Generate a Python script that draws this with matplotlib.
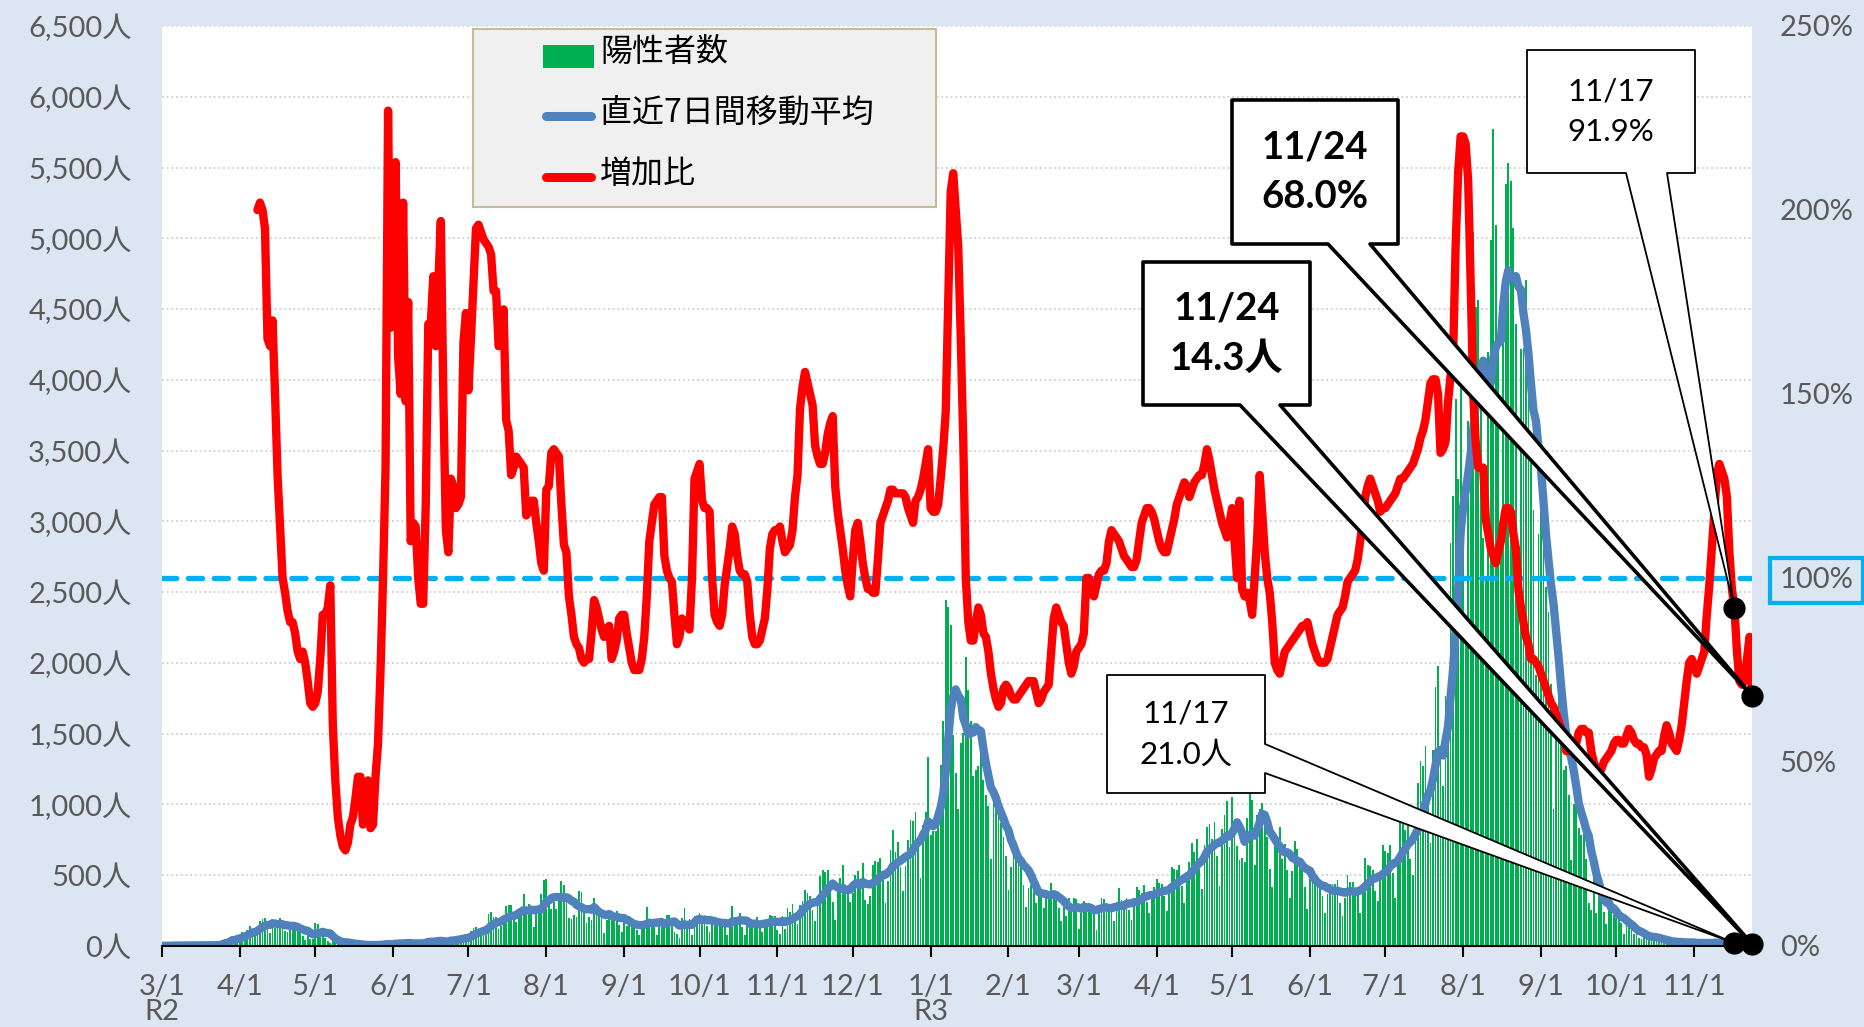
import pandas as pd
import matplotlib
matplotlib.use("Agg")
import matplotlib.pyplot as plt
import matplotlib.dates as mdates
from matplotlib.patches import Polygon, Rectangle
from matplotlib.lines import Line2D

plt.rcParams['font.family'] = ['Lato', 'Noto Sans CJK JP', 'DejaVu Sans']

# daily positives from 2020/3/1 (one row per month)
cases_2020 = [
    2, 0, 1, 3, 8, 5, 6, 0, 1, 2, 4, 5, 5, 7, 3, 1, 11, 6, 2, 9, 7, 4, 1, 16, 41, 47, 40, 63, 68, 13, 78,
    66, 97, 89, 116, 143, 83, 79, 144, 178, 189, 197, 166, 91, 161, 127, 149, 201, 181, 107, 102, 123, 132, 134, 161, 103, 72, 39, 112, 47, 46,
    165, 154, 91, 87, 58, 38, 23, 39, 36, 22, 15, 28, 10, 30, 9, 14, 5, 10, 5, 5, 11, 3, 2, 14, 8, 10, 11, 15, 22, 14, 5,
    13, 34, 12, 28, 20, 26, 14, 13, 12, 18, 22, 25, 24, 47, 48, 27, 16, 41, 35, 39, 35, 29, 31, 55, 48, 54, 57, 60, 58, 54,
    67, 107, 124, 131, 111, 102, 106, 75, 224, 243, 206, 206, 119, 143, 165, 286, 293, 290, 188, 168, 237, 238, 366, 260, 295, 239, 131, 266, 250, 367, 463,
    472, 292, 258, 309, 263, 360, 462, 429, 331, 197, 188, 222, 206, 389, 385, 260, 161, 207, 186, 339, 258, 256, 212, 95, 182, 236, 250, 226, 247, 148, 100,
    170, 141, 211, 136, 181, 116, 77, 170, 149, 276, 187, 146, 146, 80, 191, 163, 172, 220, 218, 150, 98, 88, 59, 195, 270, 161, 193, 78, 212, 194,
    235, 196, 207, 143, 102, 178, 177, 172, 187, 180, 146, 78, 166, 284, 185, 184, 235, 133, 78, 139, 150, 186, 186, 203, 124, 102, 158, 171, 221, 215, 215,
    116, 87, 209, 122, 269, 242, 294, 189, 157, 293, 317, 393, 374, 352, 255, 180, 298, 493, 534, 522, 539, 391, 314, 186, 401, 481, 570, 418, 418, 311,
    372, 500, 533, 449, 584, 327, 299, 352, 572, 602, 595, 621, 480, 305, 460, 678, 822, 664, 736, 556, 392, 563, 748, 888, 884, 949, 708, 481, 856, 944, 1337,
]
cases_2021 = [
    783, 814, 816, 884, 1278, 1591, 2447, 2392, 2268, 1494, 1219, 970, 1433, 1502, 2044, 1809, 1592, 1204, 1240, 1274, 1471, 1175, 1070, 986, 618, 1026, 973, 1064, 868, 769, 633,
    393, 556, 676, 734, 577, 639, 429, 276, 412, 434, 434, 307, 369, 371, 266, 378, 378, 445, 353, 327, 272, 178, 275, 213, 340, 270, 337, 329,
    121, 232, 316, 279, 301, 293, 237, 116, 290, 340, 335, 304, 239, 239, 175, 300, 409, 323, 303, 342, 256, 187, 337, 420, 394, 376, 430, 313, 234, 364, 414,
    475, 446, 440, 355, 249, 399, 555, 545, 537, 570, 421, 306, 510, 591, 729, 667, 759, 543, 405, 711, 843, 861, 759, 876, 635, 425, 828, 925, 1027, 698,
    1050, 879, 708, 609, 621, 591, 907, 1121, 1032, 573, 925, 969, 1010, 854, 772, 542, 419, 732, 766, 843, 614, 723, 535, 340, 531, 743, 684, 614, 539, 416, 260,
    471, 487, 508, 472, 436, 351, 235, 369, 440, 439, 435, 467, 304, 209, 337, 501, 452, 453, 388, 376, 236, 435, 619, 570, 562, 534, 386, 317, 476, 714,
    673, 660, 716, 518, 342, 593, 920, 896, 822, 950, 614, 502, 830, 1149, 1308, 1271, 1410, 1008, 727, 1387, 1832, 1979, 1359, 1128, 1763, 1429, 2848, 3177, 3865, 3300, 4058,
    3058, 2195, 3709, 4166, 5042, 4515, 4566, 4066, 2884, 2612, 4200, 4989, 5773, 5094, 4295, 2962, 4377, 5386, 5534, 5405, 5074, 4392, 2447, 4220, 4228, 4704, 4227, 3581, 3081, 1915, 2909,
    3168, 3099, 2539, 2362, 1853, 968, 1629, 1834, 1675, 1242, 1273, 1067, 611, 1004, 1052, 831, 782, 862, 617, 302, 253, 537, 235, 351, 382, 241, 154, 248, 267, 218,
    200, 196, 161, 87, 149, 144, 138, 82, 82, 60, 49, 77, 72, 62, 62, 66, 40, 29, 36, 41, 36, 26, 32, 19, 17, 29, 36, 21, 26, 24, 22,
    9, 18, 30, 23, 25, 21, 16, 9, 41, 25, 24, 28, 20, 17, 7, 30, 21, 18, 15, 18, 12, 5, 8, 24,
]

# increase ratio (%), daily from 2020/4/8
ratio_2020 = [
    200, 202, 200, 195, 165, 163, 170, 150, 128, 114, 100, 96, 91, 88, 88, 85, 80, 78, 80, 77, 72, 66, 65,
    66, 69, 78, 90, 90, 92, 98, 60, 45, 35, 30, 27, 26, 28, 33, 35, 40, 46, 46, 33, 35, 45, 32, 33, 46, 55, 75, 100, 130, 227, 168,
    200, 213, 160, 150, 202, 148, 175, 110, 115, 114, 100, 93, 93, 120, 169, 169, 182, 163, 180, 197, 150, 113, 107, 127, 125, 119, 120, 122, 164, 172,
    151, 165, 180, 195, 196, 194, 192, 191, 190, 188, 178, 178, 163, 165, 173, 143, 140, 128, 130, 133, 132, 131, 130, 117, 118, 121, 121, 115, 110, 104, 102,
    124, 125, 134, 135, 134, 133, 120, 109, 107, 95, 90, 84, 82, 81, 78, 77, 78, 78, 85, 94, 92, 89, 86, 84, 86, 87, 78, 80, 83, 89, 90,
    90, 85, 81, 77, 75, 75, 75, 78, 84, 95, 110, 115, 120, 121, 122, 122, 106, 102, 100, 99, 90, 82, 84, 89, 88, 87, 86, 100, 127, 129,
    131, 121, 119, 119, 118, 100, 90, 88, 87, 90, 98, 103, 108, 114, 112, 106, 102, 101, 101, 99, 90, 84, 82, 82, 83, 86, 89, 97, 108, 112, 113,
    113, 114, 110, 107, 108, 109, 113, 122, 128, 146, 152, 156, 153, 150, 147, 136, 133, 131, 131, 134, 139, 142, 144, 125, 118, 113, 108, 102, 98, 95,
    105, 113, 115, 110, 104, 100, 97, 97, 96, 96, 105, 115, 117, 119, 121, 124, 124, 123, 123, 123, 123, 122, 119, 117, 115, 121, 122, 124, 127, 131, 135,
]
ratio_2021 = [
    119, 118, 118, 120, 127, 135, 145, 175, 205, 210, 200, 190, 165, 137, 100, 88, 83, 83, 88, 92, 90, 85, 84, 80, 74, 70, 67, 65, 66, 70, 71,
    70, 68, 67, 67, 68, 69, 70, 71, 72, 72, 72, 69, 66, 67, 69, 70, 71, 80, 89, 92, 90, 88, 87, 82, 77, 74, 76, 80,
    81, 82, 85, 100, 100, 96, 95, 98, 101, 102, 102, 104, 110, 113, 112, 111, 110, 108, 106, 105, 104, 103, 103, 105, 110, 115, 117, 119, 119, 118, 116,
    113, 110, 108, 107, 107, 110, 113, 116, 120, 122, 124, 126, 125, 122, 124, 126, 127, 128, 128, 131, 135, 132, 128, 124, 121, 118, 115, 113, 111, 115,
    119, 110, 100, 121, 97, 95, 96, 94, 90, 100, 111, 128, 118, 107, 100, 96, 88, 77, 75, 74, 77, 80, 81, 82, 83, 84, 85, 86, 87, 87, 88,
    85, 82, 80, 78, 77, 77, 77, 78, 81, 84, 87, 90, 91, 92, 95, 99, 100, 101, 102, 105, 110, 115, 122, 125, 127, 125, 123, 121, 118, 119,
    119, 120, 121, 122, 123, 125, 127, 127, 128, 129, 130, 131, 133, 135, 138, 140, 143, 148, 153, 154, 154, 150, 134, 135, 137, 148, 155, 160, 190, 210, 220,
    220, 218, 208, 180, 150, 137, 130, 130, 130, 116, 112, 108, 106, 104, 107, 110, 115, 119, 119, 118, 112, 108, 97, 92, 88, 84, 82, 78, 78, 77, 76,
    74, 72, 70, 68, 66, 65, 63, 61, 59, 57, 53, 53, 53, 54, 55, 58, 59, 59, 58, 58, 53, 50, 48, 47, 48, 50, 51, 52, 53, 55,
    56, 56, 55, 55, 57, 59, 58, 56, 55, 55, 54, 54, 52, 46, 48, 51, 52, 53, 53, 57, 60, 58, 55, 54, 53, 56, 60, 66, 72, 77, 78,
    76, 74, 76, 78, 80, 90, 98, 108, 118, 128, 131, 129, 127, 122, 107, 97, 91.9, 80, 72, 71, 72, 78, 84, 68.0,
]

legend_labels = ['陽性者数', '直近7日間移動平均', '増加比']
callout_texts = ['11/17\n91.9%', '11/24\n68.0%', '11/24\n14.3人', '11/17\n21.0人']

cases = cases_2020 + cases_2021
ratio = ratio_2020 + ratio_2021
dates = pd.date_range('2020-03-01', periods=len(cases), freq='D')
ratio_dates = pd.date_range('2020-04-08', periods=len(ratio), freq='D')
avg7 = pd.Series(cases, index=dates).rolling(7, min_periods=1).mean()

# pixel layout of the plot area
W_PX, H_PX = 1864, 1027
L, R, T, B = 162, 1752, 26, 946
GREY = '#595959'

fig = plt.figure(figsize=(W_PX / 100, H_PX / 100), dpi=100, facecolor='#dce6f2')
ax = fig.add_axes([L / W_PX, 1 - B / H_PX, (R - L) / W_PX, (B - T) / H_PX])
ax.set_facecolor('white')
ax2 = ax.twinx()

ax.bar(dates, cases, width=0.72, color='#00b050', linewidth=0, zorder=2)
ax.plot(dates, avg7.values, color='#4f81bd', lw=6, solid_capstyle='round', solid_joinstyle='round', zorder=3)
ax.set_ylim(0, 6500)
yt = list(range(0, 6501, 500))
ax.set_yticks(yt)
ax.set_yticklabels([f'{v:,}人' for v in yt])
ax.yaxis.grid(True, ls=(0, (1, 1.6)), color='#cfcfcf', lw=1.3)
ax.set_axisbelow(True)

months = pd.date_range('2020-03-01', '2021-11-01', freq='MS')
mlabels = []
for m in months:
    s = f'{m.month}/1'
    if m == pd.Timestamp('2020-03-01'):
        s += '\nR2'
    elif m == pd.Timestamp('2021-01-01'):
        s += '\nR3'
    mlabels.append(s)
ax.set_xticks(months)
for lbl in ax.set_xticklabels(mlabels):
    lbl.set_linespacing(0.98)
ax.set_xlim(mdates.date2num(dates[0]), mdates.date2num(dates[-1]))

for s in ax.spines.values():
    s.set_visible(False)
ax.spines['bottom'].set_visible(True)
ax.spines['bottom'].set_color('black')
ax.spines['bottom'].set_linewidth(1.5)
ax.spines['bottom'].set_zorder(4)
for s in ax2.spines.values():
    s.set_visible(False)

ax.tick_params(axis='y', length=0, pad=22, labelsize=21, labelcolor=GREY)
ax.tick_params(axis='x', length=8, width=1.5, color='black', pad=12, labelsize=21, labelcolor=GREY)

ax2.axhline(100, color='#00b0f0', lw=3.8, dashes=(2.7, 2.2), dash_capstyle='round', zorder=2)
ax2.plot(ratio_dates, ratio, color='#ff0000', lw=6, solid_capstyle='round', solid_joinstyle='round', zorder=3)
ax2.set_ylim(0, 250)
ax2.set_yticks(range(0, 251, 50))
ax2.set_yticklabels([f'{v}%' for v in range(0, 251, 50)])
ax2.tick_params(axis='y', length=0, pad=20, labelsize=21, labelcolor=GREY)
ax2.yaxis.get_major_ticks()[2].label2.set_bbox(
    dict(boxstyle='square,pad=0.32', fc='#dce6f2', ec='#00b0f0', lw=3))


def ax_xy(px, py):
    return ((px - L) / (R - L), (B - py) / (B - T))


def data_to_axes(a, x, y):
    disp = a.transData.transform((mdates.date2num(pd.Timestamp(x)), y))
    return tuple(ax2.transAxes.inverted().transform(disp))


def callout(box, tip, text, side, base, bold):
    x0, y0, x1, y1 = box
    ax0, ay_top = ax_xy(x0, y0)
    ax1, ay_bot = ax_xy(x1, y1)
    if side == 'bottom':
        b0, b1 = ax_xy(base[0], y1)[0], ax_xy(base[1], y1)[0]
        pts = [(ax0, ay_top), (ax1, ay_top), (ax1, ay_bot), (b1, ay_bot), tip,
               (b0, ay_bot), (ax0, ay_bot)]
    else:
        b0, b1 = ax_xy(x1, base[0])[1], ax_xy(x1, base[1])[1]
        pts = [(ax0, ay_top), (ax1, ay_top), (ax1, b0), tip, (ax1, b1),
               (ax1, ay_bot), (ax0, ay_bot)]
    ax2.add_patch(Polygon(pts, closed=True, transform=ax2.transAxes, fc='white', ec='black',
                          lw=2.6 if bold else 1.3, joinstyle='round', zorder=10, clip_on=False))
    ax2.text((ax0 + ax1) / 2, (ay_top + ay_bot) / 2, text, transform=ax2.transAxes,
             ha='center', va='center', fontsize=27.5 if bold else 22.5,
             fontweight='bold' if bold else 'normal', linespacing=1.55, zorder=11)


tipA = data_to_axes(ax2, '2021-11-17', ratio[-8])
tipB = data_to_axes(ax2, '2021-11-24', ratio[-1])
tipC = data_to_axes(ax, '2021-11-24', avg7.iloc[-1])
tipD = data_to_axes(ax, '2021-11-17', avg7.iloc[-8])

callout((1527, 50, 1695, 173), tipA, callout_texts[0], 'bottom', (1626, 1667), False)
callout((1232, 100, 1398, 244), tipB, callout_texts[1], 'bottom', (1328, 1370), True)
callout((1143, 262, 1310, 405), tipC, callout_texts[2], 'bottom', (1240, 1280), True)
callout((1107, 675, 1265, 793), tipD, callout_texts[3], 'right', (744, 773), False)

tips = [tipA, tipB, tipC, tipD]
ax2.plot([t[0] for t in tips], [t[1] for t in tips], 'o', color='black', ms=15,
         transform=ax2.transAxes, clip_on=False, zorder=12)

# legend box
lx0, ly0 = ax_xy(473, 207)
lx1, ly1 = ax_xy(936, 29)
ax2.add_patch(Rectangle((lx0, ly0), lx1 - lx0, ly1 - ly0, transform=ax2.transAxes,
                        fc='#f0f0f0', ec='#c4bd97', lw=1.5, zorder=10))
gx0, gy0 = ax_xy(543, 68)
gx1, gy1 = ax_xy(594, 45)
ax2.add_patch(Rectangle((gx0, gy0), gx1 - gx0, gy1 - gy0, transform=ax2.transAxes,
                        fc='#00b050', ec='none', zorder=11))
for ypx, col in [(116, '#4f81bd'), (177, '#ff0000')]:
    hx0, hy = ax_xy(546, ypx)
    hx1, _ = ax_xy(591, ypx)
    ax2.add_line(Line2D([hx0, hx1], [hy, hy], color=col, lw=6.5, solid_capstyle='round',
                        transform=ax2.transAxes, zorder=11))
for lab, ypx in zip(legend_labels, [52, 113, 174]):
    tx, ty = ax_xy(600, ypx)
    ax2.text(tx, ty, lab, transform=ax2.transAxes, ha='left', va='center',
             fontsize=23, color='black', family=['Noto Sans CJK JP'], zorder=11)

fig.savefig('out.png', dpi=100, facecolor=fig.get_facecolor())
